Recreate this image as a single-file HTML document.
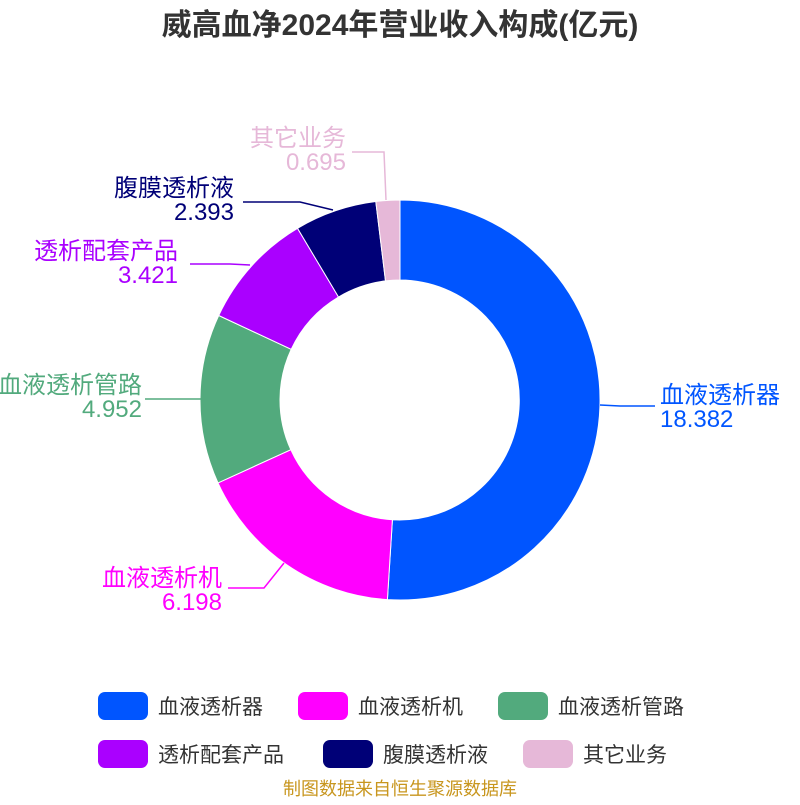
<!DOCTYPE html>
<html><head><meta charset="utf-8"><style>
body{margin:0;background:#fff;}
svg text{font-family:"Liberation Sans","Noto Sans CJK SC",sans-serif;}
</style></head><body>
<svg width="800" height="800" viewBox="0 0 800 800" xmlns="http://www.w3.org/2000/svg">
<rect width="800" height="800" fill="#fff"/>
<text x="400" y="35" text-anchor="middle" font-size="30" font-weight="bold" fill="#333">威高血净2024年营业收入构成(亿元)</text>
<g stroke="#fff" stroke-width="1">
<path d="M400,200 A200,200 0 1 1 387.4,599.6 L392.4,519.8 A120,120 0 1 0 400,280 Z" fill="#0055ff"/>
<path d="M387.4,599.6 A200,200 0 0 1 218,482.9 L290.8,449.7 A120,120 0 0 0 392.4,519.8 Z" fill="#ff00ff"/>
<path d="M218,482.9 A200,200 0 0 1 218.7,315.5 L291.2,349.3 A120,120 0 0 0 290.8,449.7 Z" fill="#52aa7d"/>
<path d="M218.7,315.5 A200,200 0 0 1 297.5,228.3 L338.5,297 A120,120 0 0 0 291.2,349.3 Z" fill="#aa00ff"/>
<path d="M297.5,228.3 A200,200 0 0 1 375.8,201.5 L385.5,280.9 A120,120 0 0 0 338.5,297 Z" fill="#000077"/>
<path d="M375.8,201.5 A200,200 0 0 1 400,200 L400,280 A120,120 0 0 0 385.5,280.9 Z" fill="#e6b8d8"/>
</g>
<g fill="none" stroke-width="1.5">
<polyline points="600,405 620,406 655,406" stroke="#0055ff"/>
<polyline points="284,563 264,588 228,588" stroke="#ff00ff"/>
<polyline points="202,399 182,399 145,399" stroke="#52aa7d"/>
<polyline points="250,265 230,264 190,264" stroke="#aa00ff"/>
<polyline points="333,210 300,202 243,202" stroke="#000077"/>
<polyline points="386,200 384,152 352,152" stroke="#e6b8d8"/>
</g>
<g font-size="24">
<text x="660" y="403" fill="#0055ff">血液透析器</text>
<text x="660" y="427" fill="#0055ff">18.382</text>
<text x="222" y="586" text-anchor="end" fill="#ff00ff">血液透析机</text>
<text x="222" y="610" text-anchor="end" fill="#ff00ff">6.198</text>
<text x="142" y="393" text-anchor="end" fill="#52aa7d">血液透析管路</text>
<text x="142" y="417" text-anchor="end" fill="#52aa7d">4.952</text>
<text x="178" y="259" text-anchor="end" fill="#aa00ff">透析配套产品</text>
<text x="178" y="283" text-anchor="end" fill="#aa00ff">3.421</text>
<text x="234" y="196" text-anchor="end" fill="#000077">腹膜透析液</text>
<text x="234" y="220" text-anchor="end" fill="#000077">2.393</text>
<text x="346" y="146" text-anchor="end" fill="#e6b8d8">其它业务</text>
<text x="346" y="170" text-anchor="end" fill="#e6b8d8">0.695</text>
</g>
<g font-size="21" fill="#333">
<rect x="98" y="692" width="50" height="28" rx="7" fill="#0055ff"/><text x="158" y="714">血液透析器</text>
<rect x="298" y="692" width="50" height="28" rx="7" fill="#ff00ff"/><text x="358" y="714">血液透析机</text>
<rect x="498" y="692" width="50" height="28" rx="7" fill="#52aa7d"/><text x="558" y="714">血液透析管路</text>
<rect x="98" y="740" width="50" height="28" rx="7" fill="#aa00ff"/><text x="158" y="762">透析配套产品</text>
<rect x="323" y="740" width="50" height="28" rx="7" fill="#000077"/><text x="383" y="762">腹膜透析液</text>
<rect x="523" y="740" width="50" height="28" rx="7" fill="#e6b8d8"/><text x="583" y="762">其它业务</text>
</g>
<text x="400" y="795" text-anchor="middle" font-size="18" fill="#c8961e">制图数据来自恒生聚源数据库</text>
</svg>
</body></html>
